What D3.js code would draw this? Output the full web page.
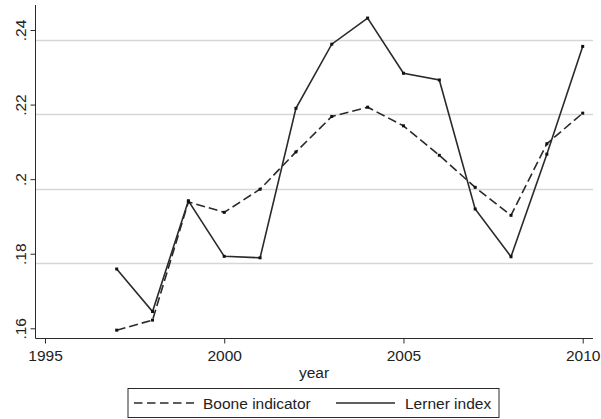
<!DOCTYPE html>
<html><head><meta charset="utf-8">
<script src="https://cdn.jsdelivr.net/npm/d3@7"></script>
<style>body{margin:0;background:#fff;}svg{display:block;font-family:"Liberation Sans",Arial,sans-serif;}</style>
</head><body>
<svg id="c" width="601" height="419"></svg>
<script>
const years = [1997,1998,1999,2000,2001,2002,2003,2004,2005,2006,2007,2008,2009,2010];
const boone = [0.1595,0.1622,0.1939,0.1911,0.1973,0.2073,0.2168,0.2193,0.2143,0.2064,0.1978,0.1903,0.2095,0.2177];
const lerner = [0.1759,0.1645,0.1942,0.1793,0.1789,0.2190,0.2362,0.2432,0.2284,0.2266,0.1920,0.1792,0.2067,0.2356];
const xTicks = [1995,2000,2005,2010];
const yTicks = [0.16,0.18,0.20,0.22,0.24];
const yTickLabels = [".16",".18",".2",".22",".24"];
const seriesNames = ["Boone indicator","Lerner index"];

const svg = d3.select("#c");
const x = d3.scaleLinear().domain([1995,2010]).range([45,582.7]);
const y = d3.scaleLinear().domain([0.16,0.24]).range([328.3,30]);
const pLeft = 35.5, pRight = 593, pTop = 5, pBottom = 338.5;
const ink = "#2a2a2a";
const fs = 15.5;

// gridlines (offset as in reference)
svg.append("g").selectAll("line").data(yTicks.slice(1)).join("line")
  .attr("x1", pLeft).attr("x2", pRight)
  .attr("y1", d => Math.round(y(d)+9.6)+0.5).attr("y2", d => Math.round(y(d)+9.6)+0.5)
  .attr("stroke","#d6d6d6").attr("stroke-width",1.5);

// axes
const xAxis = d3.axisBottom(x).tickValues(xTicks).tickFormat(d3.format("d")).tickSize(5).tickPadding(6);
const gx = svg.append("g").attr("transform",`translate(0,${pBottom})`).call(xAxis);
gx.select(".domain").remove();
gx.selectAll("line").attr("stroke",ink);
gx.selectAll("text").attr("font-size",fs).attr("fill","#222").attr("font-family","Liberation Sans, Arial, sans-serif");
svg.append("line").attr("x1",pLeft).attr("x2",pRight).attr("y1",pBottom).attr("y2",pBottom).attr("stroke",ink).attr("stroke-width",1);

const yAxis = d3.axisLeft(y).tickValues(yTicks).tickFormat((d,i)=>yTickLabels[i]).tickSize(5).tickPadding(4);
const gy = svg.append("g").attr("transform",`translate(${pLeft},0)`).call(yAxis);
gy.select(".domain").remove();
gy.selectAll("line").attr("stroke",ink);
gy.selectAll("text").attr("font-size",fs).attr("fill","#222").attr("font-family","Liberation Sans, Arial, sans-serif")
  .attr("text-anchor","middle").attr("x",0).attr("dy",0)
  .attr("transform","translate(-10,0) rotate(-90)");
svg.append("line").attr("x1",pLeft).attr("x2",pLeft).attr("y1",pTop).attr("y2",pBottom).attr("stroke",ink).attr("stroke-width",1);

svg.append("text").attr("x",314).attr("y",377.5).attr("text-anchor","middle")
  .attr("font-size",fs).attr("fill","#222").text("year");

// lines
const line = d3.line().x((d,i)=>x(years[i])).y(d=>y(d));
svg.append("path").datum(boone).attr("d",line).attr("fill","none")
  .attr("stroke",ink).attr("stroke-width",1.6).attr("stroke-dasharray","9,4");
svg.append("path").datum(lerner).attr("d",line).attr("fill","none")
  .attr("stroke",ink).attr("stroke-width",1.6);
[boone,lerner].forEach(s=>{
  svg.append("g").selectAll("rect").data(s).join("rect")
    .attr("x",(d,i)=>x(years[i])-1.5).attr("y",d=>y(d)-1.5)
    .attr("width",3).attr("height",3).attr("fill","#111");
});

// legend
const lg = svg.append("g");
lg.append("rect").attr("x",128).attr("y",388.5).attr("width",371).attr("height",29)
  .attr("fill","#fff").attr("stroke",ink).attr("stroke-width",1);
lg.append("line").attr("x1",134).attr("x2",194).attr("y1",403).attr("y2",403)
  .attr("stroke",ink).attr("stroke-width",1.6).attr("stroke-dasharray","8.5,4.5");
lg.append("text").attr("x",203).attr("y",408.5).attr("font-size",fs).attr("fill","#222").text(seriesNames[0]);
lg.append("line").attr("x1",336).attr("x2",395).attr("y1",403).attr("y2",403)
  .attr("stroke",ink).attr("stroke-width",1.6);
lg.append("text").attr("x",405).attr("y",408.5).attr("font-size",fs).attr("fill","#222").text(seriesNames[1]);
</script>
</body></html>
